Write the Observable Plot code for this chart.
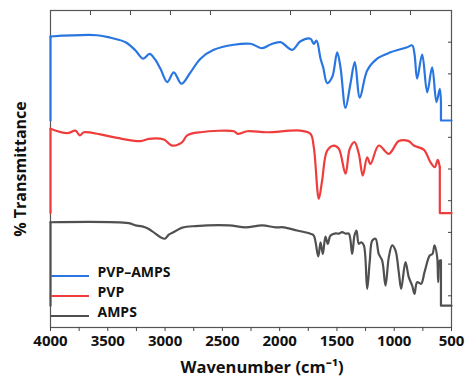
<!DOCTYPE html>
<html>
<head>
<meta charset="utf-8">
<script src="https://cdn.jsdelivr.net/npm/d3@7"></script>
<script src="https://cdn.jsdelivr.net/npm/@observablehq/plot@0.6"></script>
<style>
  body { margin: 0; background: #fff; }
  #chart { width: 469px; height: 382px; }
</style>
</head>
<body>
<div id="chart"></div>
<script>
// Wavenumber (cm^-1), % transmittance (offset, arbitrary units 0–100)
const seriesNames = ["PVP–AMPS", "PVP", "AMPS"];
const seriesColors = ["#2a76e0", "#ef3d3d", "#505050"];

const pvpAmps = [
  [4000,65.3],[4000,91.8],[3592,92.2],[3476,91.4],[3345,90.0],[3258,87.4],[3191,84.8],[3136,86.3],
  [3092,84.8],[3040,81.6],[2981,77.4],[2924,80.5],[2857,76.9],[2778,80.5],[2691,84.8],[2575,87.6],
  [2400,89.2],[2254,89.5],[2152,88.1],[2080,89.3],[1993,90.0],[1890,87.6],[1818,90.3],[1731,91.1],
  [1702,89.5],[1678,90.5],[1643,84.8],[1620,82.1],[1585,77.1],[1541,79.0],[1498,86.8],[1469,82.1],
  [1425,69.3],[1382,76.9],[1344,83.7],[1300,72.5],[1236,81.1],[1149,84.8],[1032,86.8],[887,88.4],
  [843,89.0],[823,86.3],[800,78.5],[756,86.1],[712,74.2],[669,82.1],[631,71.1],[602,75.3],
  [592,71.1],[592,65.3],[500,65.3]
];

const pvp = [
  [4000,36.1],[4000,62.7],[3854,61.3],[3782,62.1],[3744,60.6],[3709,61.6],[3564,60.9],[3418,59.8],
  [3214,58.8],[3142,59.5],[3011,59.3],[2938,57.4],[2850,58.5],[2807,60.6],[2691,61.6],[2400,61.9],
  [2365,61.1],[2283,61.9],[2109,61.6],[1818,62.1],[1731,61.1],[1702,56.9],[1658,40.6],[1629,46.4],
  [1585,55.8],[1527,57.4],[1484,56.4],[1425,48.5],[1388,56.4],[1347,58.5],[1309,54.8],[1274,47.9],
  [1236,53.7],[1207,51.6],[1135,57.4],[1047,54.8],[960,58.8],[873,58.8],[829,57.4],[742,56.1],
  [683,52.1],[646,50.6],[620,52.9],[602,50.6],[602,36.1],[500,36.1]
];

const amps = [
  [4000,6.9],[4000,33.2],[3317,32.9],[3258,32.2],[3200,31.9],[3142,31.1],[3084,29.6],[3040,28.5],
  [3002,28.0],[2967,29.3],[2924,30.1],[2850,31.5],[2734,32.0],[2444,32.2],[2298,31.6],[2152,32.2],
  [2036,31.6],[1964,31.6],[1847,30.6],[1731,29.6],[1702,29.0],[1663,22.4],[1643,26.9],[1623,23.2],
  [1600,28.7],[1580,26.4],[1556,29.0],[1512,29.7],[1484,29.6],[1454,30.1],[1425,29.6],[1396,29.6],
  [1367,23.2],[1347,29.0],[1329,30.6],[1309,26.4],[1288,26.9],[1265,25.9],[1236,12.2],[1213,21.1],
  [1192,27.4],[1163,28.0],[1135,23.2],[1105,21.1],[1076,13.2],[1047,22.2],[1018,25.9],[989,24.3],
  [960,17.4],[939,12.2],[902,20.6],[873,15.9],[843,13.2],[823,10.6],[800,14.3],[765,13.8],
  [736,17.4],[690,22.7],[666,23.2],[648,25.9],[625,22.2],[616,14.3],[602,21.1],[592,21.1],
  [592,6.9],[500,6.9]
];

const xTicks = [4000, 3500, 3000, 2500, 2000, 1500, 1000, 500];
const xMinorTicks = [3750, 3250, 2750, 2250, 1750, 1250, 750];
const topTicks = [3651, 3302, 2953, 2604, 1905, 1556, 1207, 858];
const rightTicks = [10, 20, 30, 40, 50, 60, 70, 80, 90];

const series = [pvpAmps, pvp, amps];
const FONT = "'Open Sans', 'Liberation Sans', sans-serif";

// Smooth body, straight baseline drops at both ends
const lineMarks = series.flatMap((s, i) => {
  const n = s.length;
  const common = {x: d => d[0], y: d => d[1], stroke: seriesColors[i], strokeWidth: 2.2,
    strokeLinejoin: "round", strokeLinecap: "round"};
  return [
    Plot.line(s.slice(0, 2), {...common, curve: "linear"}),
    Plot.line(s.slice(1, n - 2), {...common, curve: "catmull-rom"}),
    Plot.line(s.slice(n - 3), {...common, curve: "linear"})
  ];
});

const legendMarks = seriesNames.map((name, i) =>
  Plot.text([name], {
    frameAnchor: "bottom-left", dx: 47, dy: -(51 - i * 20),
    text: d => d, textAnchor: "start", fontSize: 14, fontWeight: "bold", fill: "#111"
  })
);

const chart = Plot.plot({
  width: 469,
  height: 382,
  marginLeft: 50,
  marginRight: 18,
  marginTop: 10,
  marginBottom: 55,
  style: {fontFamily: FONT, background: "#fff", overflow: "visible"},
  x: {domain: [4000, 500]},
  y: {domain: [0, 100]},
  marks: [
    Plot.frame({stroke: "#555", strokeWidth: 1.2}),
    Plot.axisX({ticks: xTicks, tickSize: 4, tickPadding: 4, tickFormat: d => String(d),
      fontSize: 15, fontWeight: "bold", fill: "#111", stroke: "#444", label: null}),
    Plot.axisX({ticks: xMinorTicks, tickSize: 4, text: null, stroke: "#444", label: null}),
    Plot.axisX({anchor: "top", ticks: topTicks, tickSize: -4, text: null, stroke: "#444", label: null}),
    Plot.axisY({anchor: "right", ticks: rightTicks, tickSize: -4, text: null, stroke: "#444", label: null}),
    ...lineMarks,
    Plot.text(["Wavenumber (cm⁻¹)"], {frameAnchor: "bottom", dx: 11, dy: 45, text: d => d,
      fontSize: 16.5, fontWeight: "bold", fill: "#111"}),
    Plot.text(["% Transmittance"], {frameAnchor: "left", dx: -30, rotate: -90, textAnchor: "middle",
      text: d => d, fontSize: 16, fontWeight: "bold", fill: "#111"}),
    ...legendMarks
  ]
});

document.getElementById("chart").appendChild(chart);

// Legend swatches (layout only)
const svg = d3.select(chart);
const frameLeft = 50, frameBottom = 382 - 55;
seriesColors.forEach((c, i) => {
  const y = frameBottom - (51 - i * 20);
  svg.append("line")
    .attr("x1", frameLeft + 1).attr("x2", frameLeft + 39)
    .attr("y1", y).attr("y2", y)
    .attr("stroke", c).attr("stroke-width", 2.2);
});
</script>
</body>
</html>
